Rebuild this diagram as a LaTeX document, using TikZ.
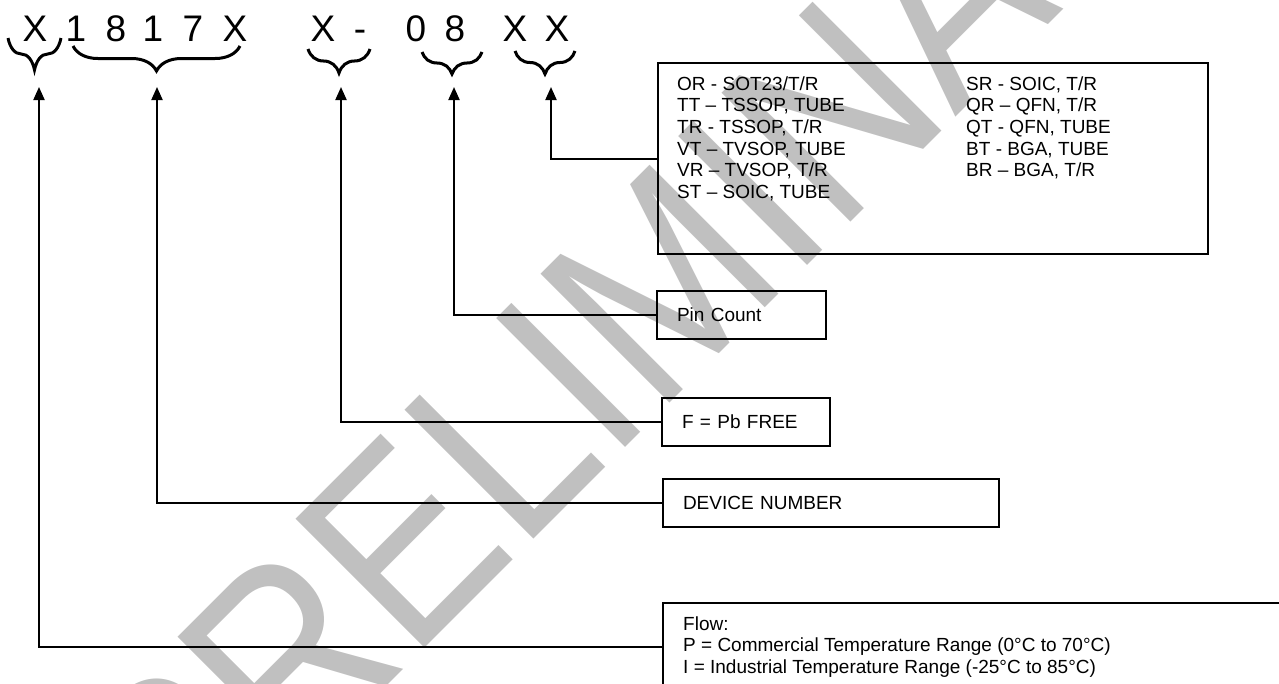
\documentclass[tikz,border=0pt]{standalone}
\usepackage{fontspec}
\setmainfont{Liberation Sans}
\newfontfamily\wmfont{Liberation Sans}[FakeStretch=0.87]
\newcommand\codefont{\fontsize{37}{44}\selectfont}
\newcommand\boxfont{\fontsize{19}{21.7}\selectfont}
\usepackage{tikz}
\usetikzlibrary{positioning,arrows.meta,decorations.pathreplacing}
\definecolor{wmgray}{RGB}{192,192,192}

\begin{document}
\begin{tikzpicture}[x=1pt, y=-1pt,
  codechar/.style={anchor=base, inner sep=0pt, font=\codefont},
  partbrace/.style={decorate, decoration={brace, amplitude=#1}, line width=3pt},
  infobox/.style={draw, line width=2pt, anchor=north west, inner xsep=20pt, inner ysep=0pt, align=left, font=\boxfont},
  boxline/.style={anchor=base west, inner sep=0pt, font=\boxfont},
  conn/.style={line width=2pt, -{Triangle[length=13pt,width=11pt]}}]
\useasboundingbox (0,0) rectangle (1279,683);
% watermark
\begin{scope}
\clip (0,0) rectangle (1279,683);
\node[anchor=base west, inner sep=0pt, rotate=45, text=wmgray, font=\wmfont\fontsize{265}{300}\selectfont] (wm) at (185,888) {PRELIMINARY};
\end{scope}
% part number
\foreach \x/\ch [count=\i] in {35/X,76/1,116/8,153/1,193/7,235/X,323/X,360/-,416/0,455/8,515/X,557/X}
  \node[codechar] (c\i) at (\x,41) {\ch};
% braces
\draw[partbrace=32pt] (61,38) -- (8,38);
\draw[partbrace=25pt] (240,46) -- (73,46);
\draw[partbrace=24pt] (370,49) -- (308,49);
\draw[partbrace=22pt] (482,52) -- (422,52);
\draw[partbrace=23pt] (575,51) -- (515,51);
% arrow tips
\coordinate (a1) at (39,87);
\coordinate (a2) at (157,87);
\coordinate (a3) at (341,87);
\coordinate (a4) at (454,87);
\coordinate (a5) at (551,87);
% package box
\node[infobox, minimum width=550pt, minimum height=191pt] (pkg) at (657,62) {};
\foreach \txt [count=\i from 0] in {{OR - SOT23/T/R},{TT – TSSOP, TUBE},{TR - TSSOP, T/R},{VT – TVSOP, TUBE},{VR – TVSOP, T/R},{ST – SOIC, TUBE}}
  \node[boxline] (pl\i) at (677,{90+21.7*\i}) {\txt};
\foreach \txt [count=\i from 0] in {{SR - SOIC, T/R},{QR – QFN, T/R},{QT - QFN, TUBE},{BT - BGA, TUBE},{BR – BGA, T/R}}
  \node[boxline] (pr\i) at (966,{90+21.7*\i}) {\txt};
% other boxes
\node[infobox, text width=129pt, minimum height=48pt] (pin) at (656,290) {Pin Count};
\node[infobox, text width=128pt, minimum height=48pt] (pbf) at (661,397) {F = Pb FREE};
\node[infobox, text width=296pt, minimum height=48pt] (dev) at (662,478) {DEVICE NUMBER};
\node[infobox, minimum width=640pt, minimum height=88pt] (flow) at (662,602) {};
\foreach \txt [count=\i from 0] in {{Flow:},{P = Commercial Temperature Range (0°C to 70°C)},{I = Industrial Temperature Range (-25°C to 85°C)}}
  \node[boxline] (fl\i) at (683,{630+21.7*\i}) {\txt};
% connectors
\draw[conn] (pkg.west) -| (a5);
\draw[conn] (pin.west) -| (a4);
\draw[conn] (pbf.west) -| (a3);
\draw[conn] (dev.west) -| (a2);
\draw[conn] (flow.west) -| (a1);
\end{tikzpicture}
\end{document}
